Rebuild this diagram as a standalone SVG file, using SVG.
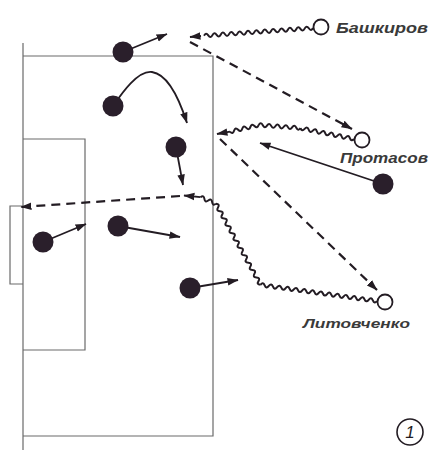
<svg xmlns="http://www.w3.org/2000/svg" width="433" height="450" viewBox="0 0 433 450">
<defs>
<marker id="ah" viewBox="0 0 10 10" refX="9.5" refY="5" markerWidth="11" markerHeight="11" markerUnits="userSpaceOnUse" orient="auto"><path d="M0 1.6 L10 5 L0 8.4 Z" fill="#231c23"/></marker>
<style>
.field{fill:none;stroke:#6a6a6a;stroke-width:1.2}
.arr{fill:none;stroke:#231c23;stroke-width:1.8;marker-end:url(#ah)}
.dash{fill:none;stroke:#231c23;stroke-width:2.2;stroke-dasharray:9 6;marker-end:url(#ah)}
.wave{fill:none;stroke:#231c23;stroke-width:2}
.pl{fill:#2a1f2b}
.op{fill:#fff;stroke:#231c23;stroke-width:1.8}
.lbl{font-family:"Liberation Sans",Arial,sans-serif;font-style:italic;font-weight:bold;fill:#3a3a3a}
</style>
</defs>
<rect width="433" height="450" fill="#fff"/>
<g id="field">
<path class="field" d="M23 43 V450 M23 56 H213 V436 H23 M23 139 H85 V350 H23 M23 206 H10 V284 H23"/>
</g>
<g id="connectors">
<path class="wave" transform="translate(313,28) rotate(175.95)" d="M0 0q2.1 -3.6 4.2 0t4.2 0 4.2 0 4.2 0 4.2 0 4.2 0 4.2 0 4.2 0 4.2 0 4.2 0 4.2 0 4.2 0 4.2 0 4.2 0 4.2 0 4.2 0 4.2 0 4.2 0 4.2 0 4.2 0 4.2 0 4.2 0 4.2 0 4.2 0 4.2 0 4.2 0"/>
<line class="arr" x1="201" y1="36" x2="190" y2="37"/>
<path class="wave" transform="translate(354,139) rotate(191.5)" d="M0 0q2.1 -3.6 4.2 0t4.2 0 4.2 0 4.2 0 4.2 0 4.2 0 4.2 0 4.2 0 4.2 0 4.2 0 4.2 0 4.2 0 4.2 0"/>
<path class="wave" transform="translate(300.5,128) rotate(184.1)" d="M0 0q2.1 -3.6 4.2 0t4.2 0 4.2 0 4.2 0 4.2 0 4.2 0 4.2 0 4.2 0 4.2 0 4.2 0"/>
<path class="wave" transform="translate(258.6,125) rotate(166.9)" d="M0 0q2.1 -3.6 4.2 0t4.2 0 4.2 0 4.2 0 4.2 0 4.2 0 4.2 0"/>
<line class="arr" x1="230" y1="131.7" x2="217" y2="134"/>
<path class="wave" transform="translate(377,301) rotate(187.9)" d="M0 0q2.1 -3.6 4.2 0t4.2 0 4.2 0 4.2 0 4.2 0 4.2 0 4.2 0 4.2 0 4.2 0 4.2 0 4.2 0 4.2 0 4.2 0 4.2 0 4.2 0 4.2 0 4.2 0 4.2 0 4.2 0 4.2 0 4.2 0 4.2 0 4.2 0 4.2 0 4.2 0 4.2 0 4.2 0 4.2 0"/>
<path class="wave" transform="translate(260.5,284.8) rotate(241.2)" d="M0 0q2.1 -3.6 4.2 0t4.2 0 4.2 0 4.2 0 4.2 0 4.2 0 4.2 0 4.2 0 4.2 0 4.2 0 4.2 0 4.2 0 4.2 0 4.2 0 4.2 0 4.2 0 4.2 0 4.2 0 4.2 0 4.2 0 4.2 0 4.2 0"/>
<path class="wave" transform="translate(216,203.8) rotate(203)" d="M0 0q2.1 -3.6 4.2 0t4.2 0 4.2 0 4.2 0"/>
<line class="arr" x1="200.5" y1="197.2" x2="184" y2="195.5"/>
<line class="dash" x1="190" y1="42" x2="352" y2="129"/>
<line class="dash" x1="220" y1="139" x2="377" y2="290"/>
<line class="dash" x1="180" y1="196" x2="21" y2="207"/>
<line class="arr" x1="123" y1="52" x2="167" y2="34"/>
<path class="arr" d="M113 106 C122 93 138 70 152 72 C166 74 178 95 187 123"/>
<line class="arr" x1="176" y1="147" x2="183" y2="185"/>
<line class="arr" x1="43" y1="242" x2="86" y2="224"/>
<line class="arr" x1="118" y1="226" x2="180" y2="237"/>
<line class="arr" x1="190" y1="288" x2="238" y2="280"/>
<line class="arr" x1="383" y1="184" x2="260" y2="143"/>
</g>
<g id="p1"><circle class="pl" cx="123" cy="52" r="10.5"/></g>
<g id="p2"><circle class="pl" cx="113" cy="106" r="10.5"/></g>
<g id="p3"><circle class="pl" cx="176" cy="147" r="10.5"/></g>
<g id="p4"><circle class="pl" cx="43" cy="242" r="10.5"/></g>
<g id="p5"><circle class="pl" cx="118" cy="226" r="10.5"/></g>
<g id="p6"><circle class="pl" cx="190" cy="288" r="10.5"/></g>
<g id="p7"><circle class="pl" cx="383" cy="184" r="10.5"/></g>
<g id="bashkirov"><circle class="op" cx="321" cy="27" r="7.5"/><text class="lbl" x="336" y="33" font-size="15" textLength="92" lengthAdjust="spacingAndGlyphs">Башкиров</text></g>
<g id="protasov"><circle class="op" cx="362" cy="140" r="7.5"/><text class="lbl" x="340" y="163" font-size="14" textLength="88" lengthAdjust="spacingAndGlyphs">Протасов</text></g>
<g id="litovchenko"><circle class="op" cx="385" cy="302" r="7.5"/><text class="lbl" x="303" y="328" font-size="13" textLength="107" lengthAdjust="spacingAndGlyphs">Литовченко</text></g>
<g id="figno"><circle cx="410" cy="432" r="13" fill="none" stroke="#231c23" stroke-width="1.6"/><text x="410" y="438" font-size="17" text-anchor="middle" fill="#231c23" font-family="'Liberation Sans',Arial,sans-serif" font-style="italic">1</text></g>
</svg>
